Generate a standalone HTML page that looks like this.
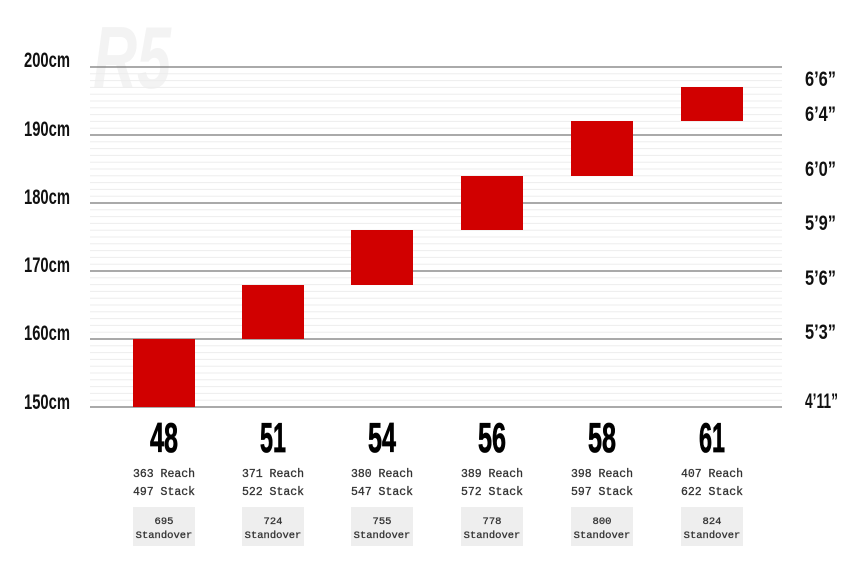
<!DOCTYPE html>
<html><head><style>body{margin:0;background:#fff}svg{display:block}</style></head><body>
<svg width="852" height="570" xmlns="http://www.w3.org/2000/svg">
<text x="93" y="88" font-family="Liberation Sans" font-weight="bold" font-style="italic" font-size="88" fill="#f3f3f3" textLength="78" lengthAdjust="spacingAndGlyphs">R5</text>
<g stroke="#ededed" stroke-width="1">
<path d="M90 73.8H782M90 80.6H782M90 87.4H782M90 94.2H782M90 101H782M90 107.8H782M90 114.6H782M90 121.4H782M90 128.2H782
M90 141.8H782M90 148.6H782M90 155.4H782M90 162.2H782M90 169H782M90 175.8H782M90 182.6H782M90 189.4H782M90 196.2H782
M90 209.8H782M90 216.6H782M90 223.4H782M90 230.2H782M90 237H782M90 243.8H782M90 250.6H782M90 257.4H782M90 264.2H782
M90 277.8H782M90 284.6H782M90 291.4H782M90 298.2H782M90 305H782M90 311.8H782M90 318.6H782M90 325.4H782M90 332.2H782
M90 345.8H782M90 352.6H782M90 359.4H782M90 366.2H782M90 373H782M90 379.8H782M90 386.6H782M90 393.4H782M90 400.2H782"/>
</g>
<g stroke="#777" stroke-width="1.2">
<path d="M90 67H782M90 135H782M90 203H782M90 271H782M90 339H782M90 407H782"/>
</g>
<g fill="#d10000">
<rect x="133" y="339" width="62" height="68"/>
<rect x="242" y="285" width="62" height="54"/>
<rect x="351" y="230" width="62" height="55"/>
<rect x="461" y="176" width="62" height="54"/>
<rect x="571" y="121" width="62" height="55"/>
<rect x="681" y="87" width="62" height="34"/>
</g>
<g font-family="Liberation Sans" font-weight="bold" font-size="21" fill="#111">
<text x="24" y="67" textLength="46" lengthAdjust="spacingAndGlyphs">200cm</text>
<text x="24" y="136" textLength="46" lengthAdjust="spacingAndGlyphs">190cm</text>
<text x="24" y="204" textLength="46" lengthAdjust="spacingAndGlyphs">180cm</text>
<text x="24" y="272" textLength="46" lengthAdjust="spacingAndGlyphs">170cm</text>
<text x="24" y="340" textLength="46" lengthAdjust="spacingAndGlyphs">160cm</text>
<text x="24" y="409" textLength="46" lengthAdjust="spacingAndGlyphs">150cm</text>
<text x="805" y="86" textLength="31" lengthAdjust="spacingAndGlyphs">6’6”</text>
<text x="805" y="121" textLength="31" lengthAdjust="spacingAndGlyphs">6’4”</text>
<text x="805" y="176" textLength="31" lengthAdjust="spacingAndGlyphs">6’0”</text>
<text x="805" y="230" textLength="31" lengthAdjust="spacingAndGlyphs">5’9”</text>
<text x="805" y="285" textLength="31" lengthAdjust="spacingAndGlyphs">5’6”</text>
<text x="805" y="339" textLength="31" lengthAdjust="spacingAndGlyphs">5’3”</text>
<text x="805" y="408" textLength="33" lengthAdjust="spacingAndGlyphs">4’11”</text>
</g>
<g font-family="Liberation Sans" font-weight="bold" font-size="42" fill="#000" text-anchor="middle" stroke="#000" stroke-width="0.8">
<text x="164" y="452" textLength="28" lengthAdjust="spacingAndGlyphs">48</text>
<text x="273" y="452" textLength="26" lengthAdjust="spacingAndGlyphs">51</text>
<text x="382" y="452" textLength="28" lengthAdjust="spacingAndGlyphs">54</text>
<text x="492" y="452" textLength="28" lengthAdjust="spacingAndGlyphs">56</text>
<text x="602" y="452" textLength="28" lengthAdjust="spacingAndGlyphs">58</text>
<text x="712" y="452" textLength="26" lengthAdjust="spacingAndGlyphs">61</text>
</g>
<g fill="#eeeeee">
<rect x="133" y="507" width="62" height="39"/>
<rect x="242" y="507" width="62" height="39"/>
<rect x="351" y="507" width="62" height="39"/>
<rect x="461" y="507" width="62" height="39"/>
<rect x="571" y="507" width="62" height="39"/>
<rect x="681" y="507" width="62" height="39"/>
</g>
<g font-family="Liberation Mono" font-size="11.5" fill="#333" text-anchor="middle" stroke="#333" stroke-width="0.3">
<text x="164" y="477">363 Reach</text><text x="164" y="495">497 Stack</text>
<text x="273" y="477">371 Reach</text><text x="273" y="495">522 Stack</text>
<text x="382" y="477">380 Reach</text><text x="382" y="495">547 Stack</text>
<text x="492" y="477">389 Reach</text><text x="492" y="495">572 Stack</text>
<text x="602" y="477">398 Reach</text><text x="602" y="495">597 Stack</text>
<text x="712" y="477">407 Reach</text><text x="712" y="495">622 Stack</text>
</g>
<g font-family="Liberation Mono" font-size="10.5" fill="#333" text-anchor="middle" stroke="#333" stroke-width="0.3">
<text x="164" y="524">695</text><text x="164" y="538">Standover</text>
<text x="273" y="524">724</text><text x="273" y="538">Standover</text>
<text x="382" y="524">755</text><text x="382" y="538">Standover</text>
<text x="492" y="524">778</text><text x="492" y="538">Standover</text>
<text x="602" y="524">800</text><text x="602" y="538">Standover</text>
<text x="712" y="524">824</text><text x="712" y="538">Standover</text>
</g>
</svg>
</body></html>
